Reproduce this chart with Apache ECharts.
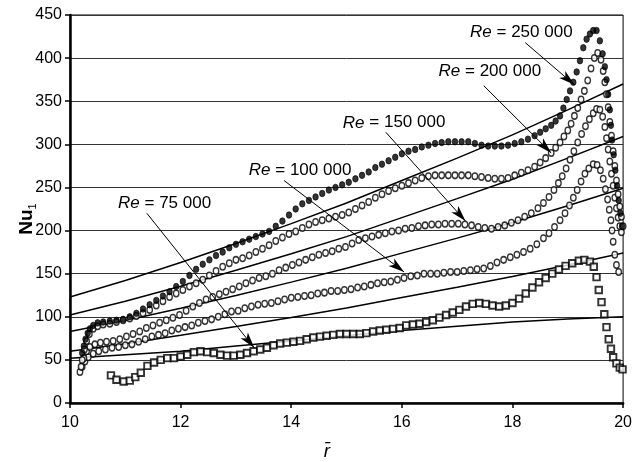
<!DOCTYPE html>
<html>
<head>
<meta charset="utf-8">
<script src="https://cdn.jsdelivr.net/npm/echarts@6/dist/echarts.min.js"></script>
<style>html,body{margin:0;padding:0;background:#fff}#c{width:635px;height:462px}</style>
</head>
<body>
<div id="c"></div>
<script>
// ---- data ----
const xTicks = [10, 12, 14, 16, 18, 20];
const yTicks = [0, 50, 100, 150, 200, 250, 300, 350, 400, 450];

const re75 = [[10.74,32],[10.84,27],[10.97,25],[11.08,26],[11.18,30],[11.28,35],[11.4,43],[11.52,47],[11.64,50],[11.76,52],[11.88,52],[12.0,54],[12.12,56],[12.24,59],[12.36,60],[12.48,59],[12.6,58],[12.72,56],[12.84,55],[12.96,55],[13.08,56],[13.2,58],[13.32,60],[13.44,62],[13.56,64],[13.68,67],[13.8,69],[13.92,70],[14.04,71],[14.16,72],[14.28,74],[14.4,76],[14.52,77],[14.64,78],[14.76,79],[14.88,80],[15.0,80],[15.12,80],[15.24,80],[15.36,81],[15.48,83],[15.6,84],[15.72,85],[15.84,86],[15.96,87],[16.08,90],[16.2,91],[16.32,92],[16.44,94],[16.56,96],[16.68,99],[16.8,102],[16.92,105],[17.04,108],[17.16,112],[17.28,115],[17.4,116],[17.52,115],[17.64,113],[17.76,112],[17.88,113],[18.0,116],[18.12,121],[18.24,127],[18.36,134],[18.48,140],[18.6,145],[18.72,150],[18.84,155],[18.96,159],[19.08,162],[19.2,165],[19.3,166],[19.4,164],[19.47,158],[19.52,146],[19.56,131],[19.61,117],[19.66,103],[19.7,88],[19.74,74],[19.78,63],[19.82,53],[19.88,46],[19.94,41],[19.99,39]];

const re100 = [[10.18,36],[10.22,42],[10.27,48],[10.33,53],[10.42,57],[10.52,60],[10.64,62],[10.76,64],[10.88,65],[11.0,67],[11.12,68],[11.24,71],[11.36,74],[11.48,77],[11.6,79],[11.72,81],[11.84,84],[11.96,86],[12.08,88],[12.2,90],[12.32,93],[12.44,95],[12.56,97],[12.68,100],[12.8,103],[12.92,106],[13.04,107],[13.16,110],[13.28,112],[13.4,114],[13.52,115],[13.64,116],[13.76,118],[13.88,120],[14.0,122],[14.12,123],[14.24,124],[14.36,125],[14.48,127],[14.6,128],[14.72,130],[14.84,130],[14.96,131],[15.08,132],[15.2,134],[15.32,135],[15.44,137],[15.56,139],[15.68,140],[15.8,141],[15.92,143],[16.04,145],[16.16,147],[16.28,148],[16.4,150],[16.52,150],[16.64,150],[16.76,151],[16.88,152],[17.0,152],[17.12,153],[17.24,154],[17.36,155],[17.48,156],[17.6,159],[17.72,163],[17.84,166],[17.96,169],[18.08,172],[18.2,175],[18.32,179],[18.44,184],[18.56,191],[18.66,197],[18.76,204],[18.86,212],[18.95,220],[19.03,229],[19.1,238],[19.17,247],[19.24,257],[19.31,266],[19.38,272],[19.46,277],[19.53,276],[19.59,270],[19.64,260],[19.68,248],[19.72,236],[19.75,224],[19.78,212],[19.8,200],[19.82,187],[19.85,172],[19.88,160],[19.92,152]];

const re150 = [[10.2,42],[10.25,52],[10.3,60],[10.36,65],[10.45,68],[10.55,70],[10.66,71],[10.78,72],[10.9,74],[11.02,77],[11.14,80],[11.26,83],[11.38,87],[11.5,90],[11.62,93],[11.74,96],[11.86,99],[11.98,102],[12.1,107],[12.22,112],[12.34,116],[12.46,120],[12.58,123],[12.7,126],[12.82,129],[12.94,132],[13.06,135],[13.18,139],[13.3,142],[13.42,145],[13.54,147],[13.66,150],[13.78,154],[13.9,157],[14.02,160],[14.14,163],[14.26,166],[14.38,169],[14.5,172],[14.62,174],[14.74,176],[14.86,179],[14.98,181],[15.1,185],[15.22,189],[15.34,191],[15.46,193],[15.58,195],[15.7,197],[15.82,199],[15.94,200],[16.06,202],[16.18,203],[16.3,205],[16.42,206],[16.54,207],[16.66,207],[16.78,208],[16.9,208],[17.02,208],[17.14,207],[17.26,206],[17.38,204],[17.5,203],[17.62,202],[17.74,204],[17.86,206],[17.98,209],[18.1,212],[18.22,216],[18.34,220],[18.46,226],[18.56,232],[18.66,239],[18.75,247],[18.83,255],[18.9,263],[18.97,272],[19.04,282],[19.11,292],[19.18,302],[19.25,312],[19.32,321],[19.39,329],[19.46,336],[19.52,341],[19.58,340],[19.63,332],[19.67,320],[19.7,307],[19.73,294],[19.76,280],[19.79,266],[19.82,252],[19.85,238],[19.88,226],[19.91,215],[19.94,205],[19.97,198]];

const re200 = [[10.22,50],[10.26,62],[10.3,72],[10.35,80],[10.42,86],[10.5,89],[10.6,91],[10.72,92],[10.84,94],[10.96,96],[11.08,98],[11.2,101],[11.32,104],[11.44,108],[11.56,113],[11.68,118],[11.8,123],[11.92,127],[12.04,131],[12.16,135],[12.28,139],[12.4,143],[12.52,148],[12.64,153],[12.76,158],[12.88,162],[13.0,166],[13.12,168],[13.24,171],[13.36,175],[13.48,179],[13.6,183],[13.72,188],[13.84,192],[13.96,196],[14.08,199],[14.2,203],[14.32,207],[14.44,210],[14.56,212],[14.68,214],[14.8,216],[14.92,218],[15.04,221],[15.16,225],[15.28,229],[15.4,233],[15.52,238],[15.64,242],[15.76,246],[15.88,249],[16.0,252],[16.12,255],[16.24,258],[16.36,261],[16.48,263],[16.6,264],[16.72,264],[16.84,264],[16.96,264],[17.08,264],[17.2,264],[17.32,263],[17.44,262],[17.56,261],[17.68,260],[17.8,260],[17.92,261],[18.04,264],[18.16,267],[18.28,270],[18.4,274],[18.5,279],[18.6,284],[18.7,290],[18.78,296],[18.86,302],[18.93,309],[19.0,316],[19.06,324],[19.12,333],[19.18,342],[19.24,352],[19.3,362],[19.36,374],[19.42,388],[19.48,400],[19.54,406],[19.6,398],[19.64,385],[19.67,372],[19.7,358],[19.73,343],[19.76,326],[19.79,310],[19.82,292],[19.85,275],[19.88,258],[19.91,242],[19.94,228],[19.97,216],[20.0,205]];

const re250 = [[10.22,58],[10.25,66],[10.28,74],[10.32,81],[10.36,86],[10.42,90],[10.5,93],[10.6,94],[10.72,95],[10.84,96],[10.96,97],[11.08,100],[11.2,104],[11.32,109],[11.44,114],[11.56,119],[11.68,124],[11.8,129],[11.92,135],[12.04,141],[12.16,148],[12.28,155],[12.4,161],[12.52,166],[12.64,171],[12.76,175],[12.88,180],[13.0,184],[13.12,187],[13.24,190],[13.36,193],[13.48,196],[13.6,199],[13.72,205],[13.84,211],[13.96,218],[14.08,225],[14.2,231],[14.32,235],[14.44,239],[14.56,243],[14.68,247],[14.8,250],[14.92,253],[15.04,256],[15.16,260],[15.28,264],[15.4,268],[15.52,273],[15.64,277],[15.76,281],[15.88,285],[16.0,289],[16.12,292],[16.24,294],[16.36,297],[16.48,299],[16.6,301],[16.72,302],[16.84,303],[16.96,303],[17.08,303],[17.2,303],[17.32,301],[17.44,299],[17.56,298],[17.68,298],[17.8,298],[17.92,299],[18.04,301],[18.16,303],[18.28,306],[18.4,310],[18.5,314],[18.6,318],[18.7,322],[18.78,327],[18.86,333],[18.92,342],[18.98,352],[19.04,362],[19.1,372],[19.16,384],[19.22,397],[19.28,412],[19.34,422],[19.4,428],[19.46,432],[19.52,432],[19.58,420],[19.63,405],[19.67,390],[19.7,375],[19.73,358],[19.76,340],[19.78,322],[19.8,305],[19.83,288],[19.86,270],[19.89,252],[19.92,235],[19.95,220],[19.98,205]];

// correlation lines
const lineX = [10, 11, 12, 13, 14, 15, 16, 17, 18, 19, 20];
const line75  = [52, 56, 60, 66, 72, 78, 84, 89, 94, 97.5, 100];
const line100 = [60, 68.8, 78.5, 88.6, 99.2, 110.3, 122.3, 134.3, 146.8, 160.1, 174];
const line150 = [83, 95.8, 109.9, 124.7, 140.2, 156.3, 173.8, 191.2, 209.3, 228.8, 249];
const line200 = [102, 118, 135.5, 154, 173, 193, 215, 237, 259.5, 284, 309];
const line250 = [123, 142, 163, 185, 208, 232, 258, 284, 311, 340, 370];

// annotations (data coordinates)
const labelText = ['75 000', '100 000', '150 000', '200 000', '250 000'];
const labelAt   = [[11.71, 232], [14.16, 270], [15.86, 325], [17.59, 384.5], [18.16, 430]];
const arrowFrom = [[11.39, 220], [13.87, 258], [15.71, 314], [17.48, 368], [18.23, 418]];
const arrowTo   = [[13.33, 64], [16.04, 152], [17.15, 211], [18.70, 290], [19.12, 369]];

// ---- chart ----
const FONT = 'Liberation Sans, Arial, Helvetica, sans-serif';
const chart = echarts.init(document.getElementById('c'), null, {renderer: 'canvas'});

function lineSeries(vals) {
  return {
    type: 'line', data: lineX.map((x, i) => [x, vals[i]]),
    showSymbol: false, symbol: 'none', silent: true, z: 3,
    lineStyle: {color: '#000', width: 1.5}
  };
}
function scatter(data, symbol, filled) {
  return {
    type: 'scatter', data: data, symbol: symbol,
    symbolSize: symbol === 'rect' ? 6.5 : [5.5, 6.5],
    silent: true, z: 4,
    itemStyle: filled ? {color: '#000', borderColor: '#000', borderWidth: 0.8}
                      : {color: '#fff', borderColor: '#000', borderWidth: symbol === 'rect' ? 1.9 : 1.4}
  };
}

const option = {
  animation: false,
  backgroundColor: '#fff',
  grid: {left: 70, right: 10, top: 15, bottom: 59, show: true, borderColor: '#000', borderWidth: 1},
  xAxis: {
    type: 'value', min: xTicks[0], max: xTicks[xTicks.length - 1], interval: 2,
    axisLine: {show: true, onZero: false, lineStyle: {color: '#000', width: 2.5}},
    axisTick: {show: true, inside: false, length: 5, lineStyle: {color: '#000', width: 1.5}},
    axisLabel: {color: '#000', fontSize: 16, fontFamily: FONT, margin: 12},
    splitLine: {show: false}
  },
  yAxis: {
    type: 'value', min: yTicks[0], max: yTicks[yTicks.length - 1], interval: 50,
    axisLine: {show: true, onZero: false, lineStyle: {color: '#000', width: 2.5}},
    axisTick: {show: true, inside: false, length: 5, lineStyle: {color: '#000', width: 1.5}},
    axisLabel: {color: '#000', fontSize: 16, fontFamily: FONT, margin: 8},
    splitLine: {show: true, lineStyle: {color: '#333', width: 1}}
  },
  graphic: [
    {
      type: 'text', x: 27, y: 219, rotation: Math.PI / 2,
      style: {
        text: '{a|Nu}{b|1}', align: 'center', verticalAlign: 'middle',
        rich: {
          a: {fontSize: 19, fontWeight: 'bold', fontFamily: FONT, fill: '#000', lineHeight: 22},
          b: {fontSize: 11, fontFamily: FONT, fill: '#000', verticalAlign: 'bottom', lineHeight: 22, padding: [10, 0, 0, 0]}
        }
      }
    },
    {
      type: 'text', x: 327, y: 452,
      style: {text: 'r\u0304', fontSize: 19, fontStyle: 'italic', fontFamily: FONT, fill: '#000', align: 'center', verticalAlign: 'middle'}
    }
  ],
  series: [
    lineSeries(line75), lineSeries(line100), lineSeries(line150), lineSeries(line200), lineSeries(line250),
    scatter(re75, 'rect', false),
    scatter(re100, 'circle', false),
    scatter(re150, 'circle', false),
    scatter(re200, 'circle', false),
    scatter(re250, 'circle', true),
    {
      type: 'scatter', data: [], silent: true, z: 6,
      markLine: {
        silent: true, animation: false,
        symbol: ['none', 'arrow'], symbolSize: [7, 16],
        lineStyle: {color: '#000', width: 1, type: 'solid'},
        label: {show: false},
        data: arrowFrom.map((f, i) => [{coord: f}, {coord: arrowTo[i]}])
      },
      markPoint: {
        silent: true, animation: false,
        symbol: 'circle', symbolSize: 0,
        itemStyle: {color: 'rgba(0,0,0,0)'},
        label: {
          show: true, position: 'inside', color: '#000', fontSize: 17, fontFamily: FONT,
          formatter: p => '{i|Re} = ' + p.name,
          rich: {i: {fontStyle: 'italic', fontSize: 17, fontFamily: FONT, color: '#000'}}
        },
        data: labelAt.map((c, i) => ({name: labelText[i], coord: c}))
      }
    }
  ]
};
chart.setOption(option);
</script>
</body>
</html>
